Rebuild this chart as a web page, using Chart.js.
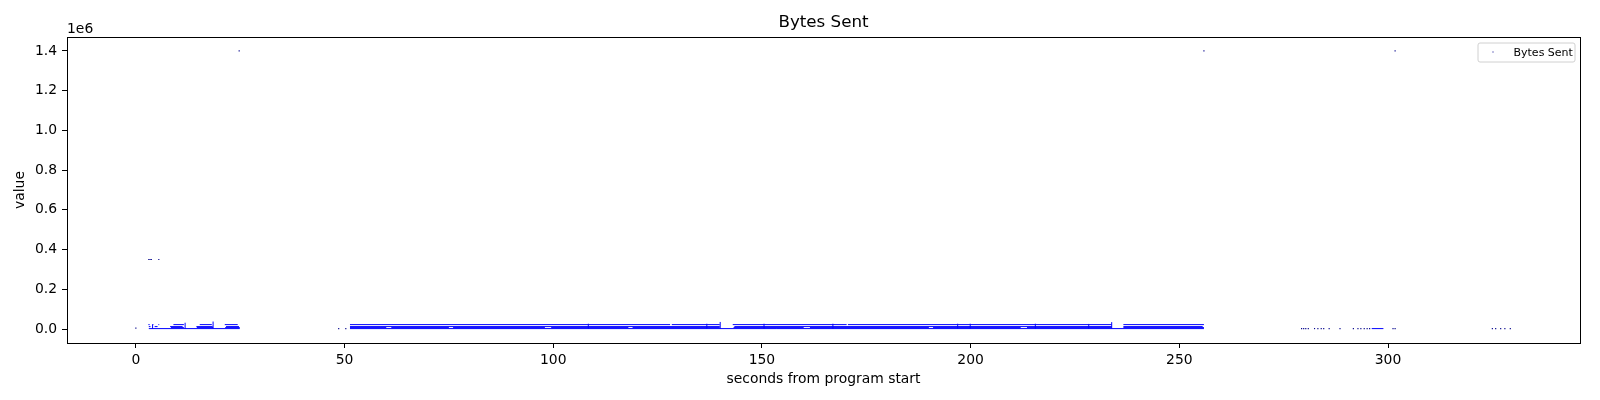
<!DOCTYPE html>
<html>
<head>
<meta charset="utf-8">
<title>Bytes Sent</title>
<script src="https://cdn.jsdelivr.net/npm/chart.js@4.4.1/dist/chart.umd.min.js"></script>
<style>
  html, body { margin: 0; padding: 0; background: #fff; }
  #bytesChart { display: block; }
</style>
</head>
<body>
<canvas id="bytesChart" width="1600" height="400"></canvas>
<script>
// tick labels (x in seconds, y in bytes)
const xTicks = [0, 50, 100, 150, 200, 250, 300];
const yTicks = [0, 200000, 400000, 600000, 800000, 1000000, 1200000, 1400000];

// dense samples show up as rows of pixels: [start, end] in seconds per value row
const rowLevels = [22500, 12500, 7500, 2500];
const runsTop = [[3.0, 3.3], [4.0, 4.2], [4.6, 4.8], [5.4, 5.6], [9.0, 11.5], [15.3, 18.2], [21.3, 24.4],
  [51.3, 128.0], [128.4, 139.9], [143.0, 170.3], [170.6, 233.8], [236.6, 255.9]];
const runsMid = [[3.1, 3.5], [4.5, 5.2], [8.2, 11.2], [14.5, 18.4], [21.6, 24.7],
  [51.3, 139.9], [143.4, 233.8], [236.6, 255.6]];
const runsLow = [[8.4, 11.5], [14.6, 18.5], [21.4, 24.9], [51.3, 60.0], [61.2, 75.0], [76.0, 98.0],
  [99.5, 118.0], [119.0, 139.9], [143.2, 160.0], [161.5, 190.0], [191.0, 212.0], [213.5, 233.8], [236.6, 255.9]];
const runsBase = [[3.1, 24.9], [51.3, 255.9], [296.1, 298.9]];

// short vertical streaks: time and highest value
const spikeTimes = [4.0, 11.8, 18.5, 108.4, 136.8, 140.0, 150.5, 167.0, 196.9, 199.9, 215.5, 228.3, 233.8];
const spikeValues = [24000, 32000, 38000, 27000, 27000, 36000, 27000, 27000, 27000, 27000, 27000, 26000, 35000];

// lone samples
const loneTimes = [0.0, 48.6, 50.3, 279.3, 279.8, 280.3, 280.9, 282.4, 283.2, 284.0, 284.6, 285.9, 288.5,
  291.7, 292.8, 293.5, 294.3, 295.0, 295.6, 301.2, 301.7, 325.0, 325.8, 327.0, 328.0, 329.3,
  3.1, 3.4, 3.7, 5.5, 24.75, 255.9, 301.7];
const loneValues = [5000, 2500, 2500, 2500, 2500, 2500, 2500, 2500, 2500, 2500, 2500, 2500, 2500,
  2500, 2500, 2500, 2500, 2500, 2500, 2500, 2500, 2500, 2500, 2500, 2500, 2500,
  350000, 350000, 350000, 350000, 1400000, 1400000, 1400000];

const fontFamily = "'DejaVu Sans', 'Liberation Sans', sans-serif";

function runsToPoints(runs, level) {
  const pts = [];
  runs.forEach(([a, b]) => {
    pts.push({ x: a, y: level }, { x: b, y: level }, { x: b, y: null });
  });
  return pts;
}

const linePoints = [];
[runsTop, runsMid, runsLow, runsBase].forEach((runs, i) => {
  linePoints.push(...runsToPoints(runs, rowLevels[i]));
});
spikeTimes.forEach((t, i) => {
  linePoints.push({ x: t, y: rowLevels[3] }, { x: t, y: spikeValues[i] }, { x: t, y: null });
});

const lonePoints = loneTimes.map((t, i) => ({ x: t, y: loneValues[i] }));

// frame, title over the axes, offset text and legend box like the original plot
const axesDecor = {
  id: "axesDecor",
  afterDatasetsDraw(chart) {
    const { ctx, chartArea } = chart;
    ctx.save();
    ctx.strokeStyle = "#000";
    ctx.lineWidth = 1;
    ctx.strokeRect(Math.round(chartArea.left) + 0.5, Math.round(chartArea.top) + 0.5,
      Math.round(chartArea.right - chartArea.left), Math.round(chartArea.bottom - chartArea.top));

    ctx.fillStyle = "#000";
    ctx.font = "16.7px " + fontFamily;
    ctx.textAlign = "center";
    ctx.textBaseline = "middle";
    ctx.fillText("Bytes Sent", (chartArea.left + chartArea.right) / 2, 23);

    ctx.font = "13.9px " + fontFamily;
    ctx.textAlign = "left";
    ctx.textBaseline = "alphabetic";
    ctx.fillText("1e6", chartArea.left, chartArea.top - 4);

    // legend
    const bw = 97, bh = 19;
    const bx = chartArea.right - 5.5 - bw;
    const by = chartArea.top + 5.5;
    ctx.beginPath();
    ctx.roundRect(bx + 0.5, by + 0.5, bw, bh, 2);
    ctx.fillStyle = "rgba(255,255,255,0.8)";
    ctx.fill();
    ctx.strokeStyle = "#d0d0d0";
    ctx.stroke();
    ctx.fillStyle = "#00008b";
    ctx.fillRect(bx + 15, by + 9, 1, 1);
    ctx.fillStyle = "#000";
    ctx.font = "11px " + fontFamily;
    ctx.textBaseline = "middle";
    ctx.fillText("Bytes Sent", bx + 36, by + bh / 2 + 1);
    ctx.restore();
  },
};

new Chart(document.getElementById("bytesChart").getContext("2d"), {
  type: "scatter",
  data: {
    datasets: [
      {
        label: "Bytes Sent",
        data: linePoints,
        showLine: true,
        spanGaps: false,
        borderColor: "#0000ff",
        borderWidth: 1,
        pointRadius: 0,
        tension: 0,
      },
      {
        label: "Bytes Sent",
        data: lonePoints,
        pointStyle: "rect",
        pointRadius: 0.8,
        backgroundColor: "#00008b",
        borderWidth: 0,
      },
    ],
  },
  options: {
    responsive: false,
    devicePixelRatio: 1,
    animation: false,
    events: [],
    layout: { padding: { left: 0, right: 20, top: 37, bottom: 0 } },
    scales: {
      x: {
        type: "linear",
        min: -16.5,
        max: 346,
        afterBuildTicks: (s) => { s.ticks = xTicks.map((v) => ({ value: v })); },
        afterFit: (s) => { s.height = 57; },
        border: { display: false },
        grid: { drawOnChartArea: false, drawTicks: true, tickLength: 5, color: "#000", lineWidth: 1 },
        ticks: {
          color: "#000",
          font: { family: fontFamily, size: 13.9 },
          padding: 4,
          maxRotation: 0,
          autoSkip: false,
          callback: (v) => String(v),
        },
        title: {
          display: true,
          text: "seconds from program start",
          color: "#000",
          font: { family: fontFamily, size: 13.9 },
          padding: { top: 0, bottom: 12 },
        },
      },
      y: {
        type: "linear",
        min: -70000,
        max: 1470000,
        afterBuildTicks: (s) => { s.ticks = yTicks.map((v) => ({ value: v })); },
        afterFit: (s) => { s.width = 67; },
        border: { display: false },
        grid: { drawOnChartArea: false, drawTicks: true, tickLength: 5, color: "#000", lineWidth: 1 },
        ticks: {
          color: "#000",
          font: { family: fontFamily, size: 13.9 },
          padding: 5,
          autoSkip: false,
          callback: (v) => (v / 1e6).toFixed(1),
        },
        title: {
          display: true,
          text: "value",
          color: "#000",
          font: { family: fontFamily, size: 13.9 },
          padding: { top: 12, bottom: 0 },
        },
      },
    },
    plugins: {
      legend: { display: false },
      tooltip: { enabled: false },
      title: { display: false },
    },
  },
  plugins: [axesDecor],
});
</script>
</body>
</html>
